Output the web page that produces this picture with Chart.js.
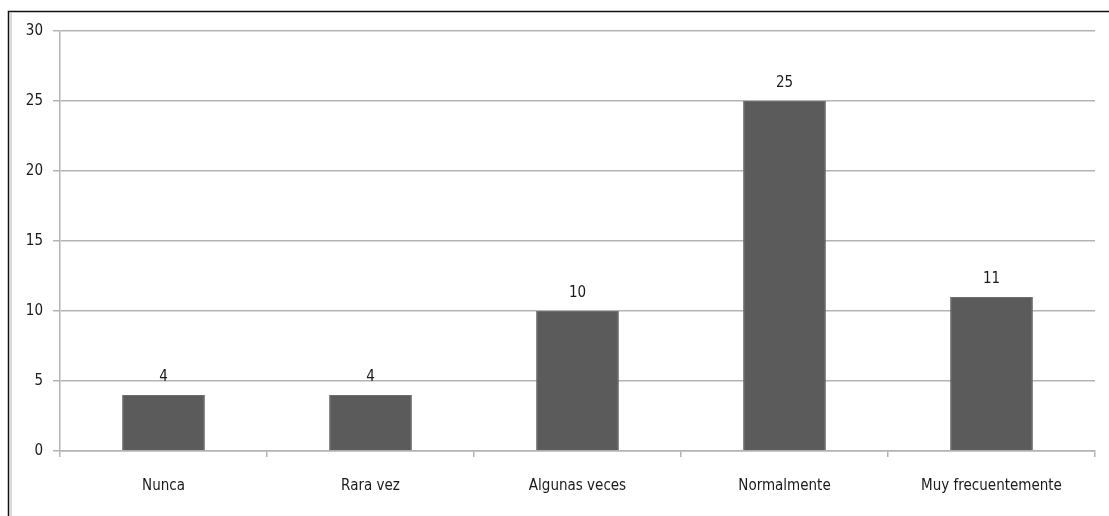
<!DOCTYPE html>
<html>
<head>
<meta charset="utf-8">
<script src="https://cdn.jsdelivr.net/npm/chart.js@4/dist/chart.umd.min.js"></script>
<style>
  html, body { margin: 0; padding: 0; background: #ffffff; }
  #wrap { position: relative; width: 1109px; height: 516px; }
</style>
</head>
<body>
<div id="wrap"><canvas id="c" width="1109" height="516"></canvas></div>
<script>
const categories = ['Nunca', 'Rara vez', 'Algunas veces', 'Normalmente', 'Muy frecuentemente'];
const counts = [4, 4, 10, 25, 11];
const yTicks = [0, 5, 10, 15, 20, 25, 30];

const FONT = "'DejaVu Sans Condensed', 'Liberation Sans Narrow', 'Liberation Sans', sans-serif";
const TEXT = '#1a1a1a';
const GRID = '#b4b4b4';

// Thin frame along the top and left edges of the figure
const framePlugin = {
  id: 'frame',
  beforeDraw(chart) {
    const ctx = chart.ctx;
    ctx.save();
    ctx.lineWidth = 1.5;
    ctx.strokeStyle = '#111111';
    ctx.beginPath();
    ctx.moveTo(8.5, 516);
    ctx.lineTo(8.5, 11.5);
    ctx.lineTo(1109, 11.5);
    ctx.stroke();
    ctx.lineWidth = 1;
    ctx.strokeStyle = '#b8b8b8';
    ctx.beginPath();
    ctx.moveTo(11, 13);
    ctx.lineTo(11, 516);
    ctx.stroke();
    ctx.restore();
  }
};

// Count written above each bar
const valueLabels = {
  id: 'valueLabels',
  afterDatasetsDraw(chart) {
    const ctx = chart.ctx;
    const meta = chart.getDatasetMeta(0);
    ctx.save();
    ctx.font = '15px ' + FONT;
    ctx.fillStyle = TEXT;
    ctx.textAlign = 'center';
    ctx.textBaseline = 'alphabetic';
    meta.data.forEach((bar, i) => {
      ctx.fillText(String(counts[i]), bar.x, bar.y - 14);
    });
    ctx.restore();
  }
};

new Chart(document.getElementById('c'), {
  type: 'bar',
  data: {
    labels: categories,
    datasets: [{
      data: counts,
      backgroundColor: '#5b5b5b',
      borderColor: '#6e6e6e',
      borderWidth: 1,
      categoryPercentage: 1.0,
      barPercentage: 0.4
    }]
  },
  options: {
    responsive: false,
    animation: false,
    devicePixelRatio: 1,
    layout: { padding: { left: 0, right: 14, top: 31, bottom: 0 } },
    plugins: {
      legend: { display: false },
      tooltip: { enabled: false }
    },
    scales: {
      x: {
        grid: {
          display: true,
          drawOnChartArea: false,
          drawTicks: true,
          tickLength: 6,
          color: GRID,
          lineWidth: 1.5
        },
        border: { display: true, color: GRID, width: 1.5 },
        ticks: {
          color: TEXT,
          font: { family: FONT, size: 15 },
          padding: 20,
          maxRotation: 0
        },
        afterFit(scale) { scale.height = 65; }
      },
      y: {
        min: 0,
        max: 30,
        afterBuildTicks(scale) { scale.ticks = yTicks.map(v => ({ value: v })); },
        grid: {
          color: GRID,
          lineWidth: 1.5,
          drawTicks: true,
          tickLength: 7
        },
        border: { display: true, color: GRID, width: 1.5 },
        ticks: {
          color: TEXT,
          font: { family: FONT, size: 15 },
          padding: 10
        },
        afterFit(scale) { scale.width = 60; }
      }
    }
  },
  plugins: [framePlugin, valueLabels]
});
</script>
</body>
</html>
